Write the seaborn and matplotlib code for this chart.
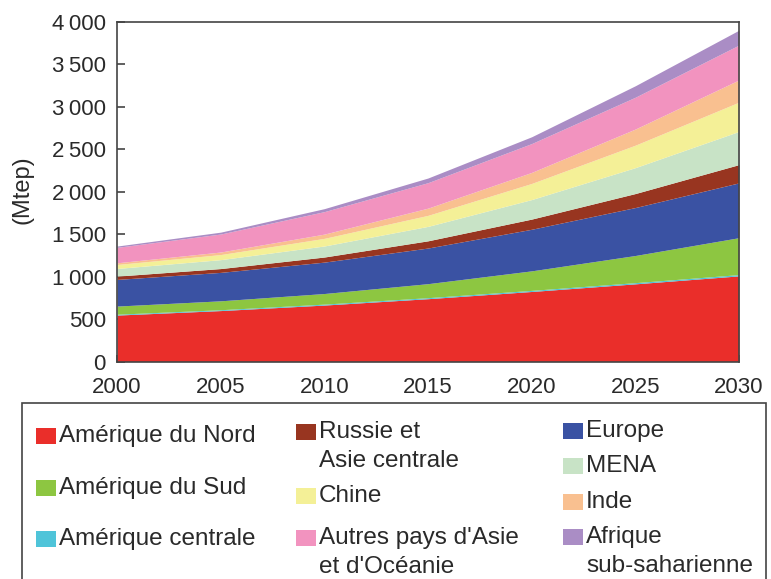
import matplotlib
matplotlib.use("Agg")
import matplotlib.pyplot as plt
from matplotlib.patches import Rectangle
from matplotlib.ticker import MultipleLocator
import seaborn as sns

# ---------------- data (Mtep) ----------------
years = [2000, 2005, 2010, 2015, 2020, 2025, 2030]
amerique_nord = [547, 600, 665, 740, 825, 915, 1009]
amerique_centrale = [10, 10, 11, 12, 13, 14, 15]
amerique_sud = [96, 105, 125, 165, 230, 320, 435]
europe = [314, 335, 370, 420, 490, 565, 646]
russie = [39, 45, 60, 85, 120, 165, 215]
mena = [90, 105, 130, 170, 230, 305, 391]
chine = [47, 60, 90, 130, 190, 265, 345]
inde = [20, 30, 50, 85, 130, 190, 262]
autres_asie = [182, 212, 265, 300, 340, 375, 411]
afrique = [15, 22, 35, 55, 80, 135, 175]

series = [amerique_nord, amerique_centrale, amerique_sud, europe, russie,
          mena, chine, inde, autres_asie, afrique]
labels = ["Amérique du Nord", "Amérique centrale", "Amérique du Sud", "Europe",
          "Russie et\nAsie centrale", "MENA", "Chine", "Inde",
          "Autres pays d'Asie\net d'Océanie", "Afrique\nsub-saharienne"]
colors = ["#EA2E2A", "#4FC4D9", "#8DC641", "#3A52A3", "#983520",
          "#C8E3C6", "#F4F097", "#F9C090", "#F293BF", "#AA8DC5"]

x_ticks = [2000, 2005, 2010, 2015, 2020, 2025, 2030]
y_ticks = [0, 500, 1000, 1500, 2000, 2500, 3000, 3500, 4000]
y_tick_labels = ["0", "500", "1\u2009000", "1\u2009500", "2\u2009000",
                 "2\u2009500", "3\u2009000", "3\u2009500", "4\u2009000"]
y_label = "(Mtep)"

# ---------------- style ----------------
sns.set_theme(style="ticks")
plt.rcParams["font.family"] = ["Liberation Sans", "DejaVu Sans"]
palette = sns.color_palette(colors)
txt = "#2a2a2a"
spine_c = "#444444"

fig = plt.figure(figsize=(7.71, 5.79), dpi=100)
W, H = 771, 579
ax = fig.add_axes([117 / W, 1 - 361.5 / H, (739 - 117) / W, (361.5 - 22) / H])

ax.stackplot(years, *series, colors=palette, linewidth=0, antialiased=True)

ax.set_xlim(2000, 2030)
ax.set_ylim(0, 4000)
ax.set_xticks(x_ticks)
ax.set_xticklabels([str(x) for x in x_ticks])
ax.xaxis.set_minor_locator(MultipleLocator(1))
ax.set_yticks(y_ticks)
ax.set_yticklabels(y_tick_labels)

for s in ax.spines.values():
    s.set_visible(True)
    s.set_color(spine_c)
    s.set_linewidth(1.2)
ax.set_zorder(1)
ax.tick_params(axis="both", which="both", direction="in", color=spine_c,
               width=1.2, labelsize=16, labelcolor=txt)
ax.tick_params(axis="x", which="major", length=5, pad=11)
ax.tick_params(axis="x", which="minor", length=5)
ax.tick_params(axis="y", which="major", length=6, pad=8)
ax.tick_params(top=False, right=False, which="both")
ax.set_ylabel(y_label, fontsize=17, color=txt)
ax.yaxis.set_label_coords(-0.135, 0.505)
ax.grid(False)

# ---------------- legend (manual, three columns) ----------------
fig.patches.append(Rectangle((22 / W, -0.02), (766 - 22) / W, (579 - 403) / H + 0.02,
                             transform=fig.transFigure, fill=False,
                             edgecolor=spine_c, linewidth=1.2))

# (column x of patch, y center of first line in px) for each series index
legend_pos = {
    0: (36, 436), 2: (36, 488), 1: (36, 539),
    4: (296, 432), 6: (296, 496), 8: (296, 538),
    3: (563, 431), 5: (563, 466), 7: (563, 502), 9: (563, 537),
}
pw, ph = 20, 16
for i, (px, py) in legend_pos.items():
    fig.patches.append(Rectangle((px / W, 1 - (py + ph / 2) / H), pw / W, ph / H,
                                 transform=fig.transFigure,
                                 facecolor=palette[i], edgecolor="none"))
    for k, line in enumerate(labels[i].split("\n")):
        fig.text((px + pw + 3) / W, 1 - (py + 29 * k) / H, line,
                 fontsize=17.5, color=txt, va="center", ha="left")

fig.savefig("out.png", dpi=100)
